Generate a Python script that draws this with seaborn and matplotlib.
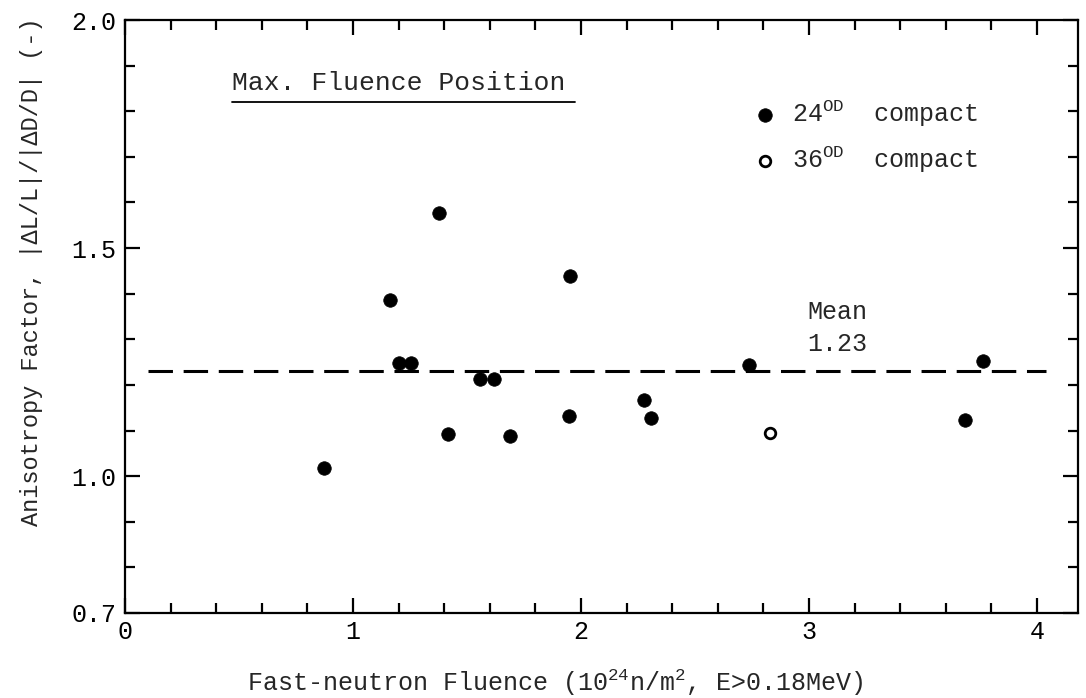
import matplotlib
matplotlib.use("Agg")
import matplotlib.pyplot as plt
from matplotlib.ticker import MultipleLocator, FixedLocator
import numpy as np
import pandas as pd
import seaborn as sns

# Anisotropy factor vs. fast-neutron fluence at the max. fluence position
fluence_24od = [0.875, 1.163, 1.203, 1.254, 1.378, 1.417, 1.555, 1.617,
                1.687, 1.946, 1.950, 2.275, 2.306, 2.736, 3.683, 3.765]
aniso_24od = [1.017, 1.386, 1.249, 1.249, 1.576, 1.093, 1.212, 1.213,
              1.088, 1.132, 1.439, 1.166, 1.128, 1.243, 1.123, 1.252]
fluence_36od = [2.829]
aniso_36od = [1.094]
mean_value = 1.23
mean_span = (0.10, 4.04)

x_major = [0, 1, 2, 3, 4]
y_major = [0.7, 1.0, 1.5, 2.0]

sns.set_theme(style="ticks")
plt.rcParams["font.family"] = ["Liberation Mono", "DejaVu Sans Mono"]
plt.rcParams["mathtext.fontset"] = "custom"
plt.rcParams["mathtext.rm"] = "Liberation Mono"
plt.rcParams["mathtext.it"] = "Liberation Mono"
plt.rcParams["mathtext.bf"] = "Liberation Mono"

FS = 18

df24 = pd.DataFrame({"fluence": fluence_24od, "aniso": aniso_24od})
df36 = pd.DataFrame({"fluence": fluence_36od, "aniso": aniso_36od})

fig = plt.figure(figsize=(10.86, 6.98), dpi=100)
ax = fig.add_axes([125 / 1086, 85 / 698, 953 / 1086, 593 / 698])

sns.scatterplot(data=df24, x="fluence", y="aniso", ax=ax, s=95,
                color="black", edgecolor="black", linewidth=0.5,
                label=r"24$^{\mathrm{OD}}$  compact", zorder=3)
sns.scatterplot(data=df36, x="fluence", y="aniso", ax=ax, s=58,
                facecolor="white", edgecolor="black", linewidth=2.0,
                label=r"36$^{\mathrm{OD}}$  compact", zorder=3)

# mean line
ax.plot(list(mean_span), [mean_value, mean_value], color="black",
        lw=2.2, dashes=(8, 3.5), zorder=2)
ax.text(3.125, 1.325, f"Mean\n{mean_value:.2f}", ha="center", va="center",
        fontsize=FS, linespacing=1.4)

# underlined heading
ax.text(0.112, 0.894, "Max. Fluence Position", transform=ax.transAxes,
        ha="left", va="center", fontsize=19)
ax.plot([0.112, 0.472], [0.862, 0.862], transform=ax.transAxes,
        color="black", lw=1.3, clip_on=False)

ax.set_xlim(0, 4.18)
ax.set_ylim(0.7, 2.0)
ax.xaxis.set_major_locator(FixedLocator(x_major))
ax.xaxis.set_minor_locator(MultipleLocator(0.2))
ax.yaxis.set_major_locator(FixedLocator(y_major))
ax.yaxis.set_minor_locator(MultipleLocator(0.1))
ax.set_xticklabels([str(v) for v in x_major])
ax.set_yticklabels([f"{v:.1f}" for v in y_major])

ax.tick_params(which="both", direction="in", top=True, right=True,
               width=1.6, colors="black", labelsize=FS)
ax.tick_params(which="major", length=11)
ax.tick_params(which="minor", length=7)
ax.tick_params(axis="x", which="major", pad=5)
ax.tick_params(axis="y", which="major", pad=6)
for sp in ax.spines.values():
    sp.set_linewidth(1.6)
    sp.set_color("black")
    sp.set_visible(True)

ax.set_xlabel(r"Fast-neutron Fluence (10$^{24}$n/m$^{2}$, E>0.18MeV)",
              fontsize=FS)
ax.set_ylabel("Anisotropy Factor, |ΔL/L|/|ΔD/D| (-)", fontsize=17)
ax.xaxis.set_label_coords(0.451, -0.091)
ax.yaxis.set_label_coords(-0.086, 0.575)

leg = ax.legend(loc="upper left", bbox_to_anchor=(0.658, 0.868),
                frameon=False, fontsize=FS, handlelength=1.0,
                handletextpad=0.6, labelspacing=0.6, borderpad=0,
                borderaxespad=0)

fig.savefig("out.png", dpi=100, facecolor="white")
